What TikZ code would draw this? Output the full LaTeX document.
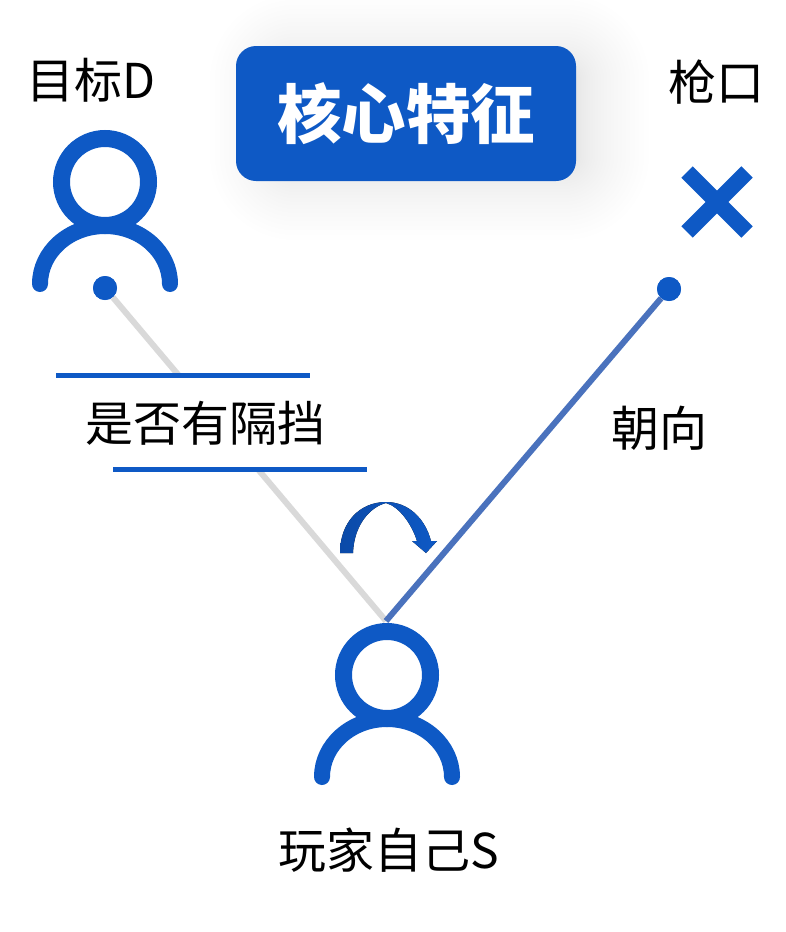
\documentclass[tikz,border=0pt]{standalone}
\usepackage{fontspec}
\setmainfont{Noto Sans CJK SC}
\definecolor{iconblue}{HTML}{0E59C5}
\definecolor{darkblue}{HTML}{0B4AA8}
\definecolor{aimblue}{HTML}{4A72BD}
\definecolor{sightgray}{HTML}{D9D9D9}
\tikzset{
	labeltext/.style={font=\fontsize{48}{52}\selectfont, text=black, inner sep=0pt},
	person/.pic={
		\draw[iconblue, line width=17pt] (0,0) circle (43.5);
		\draw[iconblue, line width=16pt, line cap=round] (-65,102) arc[start angle=180, end angle=360, x radius=65, y radius=58];
	},
	enddot/.style={circle, fill=iconblue, minimum size=24pt, inner sep=0pt},
	barline/.style={iconblue, line width=5pt}
}
\begin{document}
\begin{tikzpicture}[x=1pt, y=-1pt]
	\useasboundingbox (0,0) rectangle (786,932);

	% draw soft shadow under the title
	\foreach \i in {1,...,30}{
		\pgfmathsetmacro{\s}{\i*\i/12}
		\fill[black, opacity=.0042, rounded corners=10pt+\s pt] (285-\s,70-\s) rectangle (574+\s,165+\s);
	}

	% draw title box
	\node[fill=iconblue, rounded corners=20pt, minimum width=340pt, minimum height=135pt, inner sep=0pt, text=white, font=\fontsize{64.5}{70}\bfseries\selectfont] (title) at (406,113.5) {核心特征};

	% draw the people
	\pic at (105,182) {person};
	\pic at (387,675) {person};

	% draw nodes to add the ends of the lines
	\node[enddot] (target) at (105,288) {};
	\node[enddot] (muzzle) at (669,289) {};
	\coordinate (self) at (386,621);

	% draw the lines of sight and of aim
	\draw[sightgray, line width=6pt] (target) -- (self);
	\draw[aimblue, line width=6pt] (muzzle) -- (self);
	\node[enddot] at (target) {};
	\node[enddot] at (muzzle) {};

	% draw the cover with its two bars
	\node[labeltext, fill=white, minimum width=250pt, minimum height=90pt] (cover) at (205,423) {是否有隔挡};
	\coordinate (bar1a) at (56,375.5);
	\coordinate (bar1b) at (310,375.5);
	\coordinate (bar2a) at (113,469.5);
	\coordinate (bar2b) at (367,469.5);
	\draw[barline] (bar1a) -- (bar1b);
	\draw[barline] (bar2a) -- (bar2b);

	% draw the cross for the muzzle
	\draw[iconblue, line width=16pt] (687,172) -- (747,232);
	\draw[iconblue, line width=16pt] (747,172) -- (687,232);

	% draw the turning arrow
	\fill[left color=darkblue, right color=iconblue] (340,553) .. controls (340,522) and (360,502) .. (386,502) .. controls (408,502) and (425,518) .. (431,541) -- (437,541) -- (426,553) -- (412,541) -- (417,541) .. controls (412,525) and (400,507) .. (386,503) .. controls (370,507) and (354,525) .. (353,553) -- cycle;

	% draw nodes to add the labels
	\node[labeltext] (targetlabel) at (91.5,80) {目标D};
	\node[labeltext] (muzzlelabel) at (716.5,82) {枪口};
	\node[labeltext] (aimlabel) at (659,428) {朝向};
	\node[labeltext] (selflabel) at (388.5,850) {玩家自己S};
\end{tikzpicture}
\end{document}
